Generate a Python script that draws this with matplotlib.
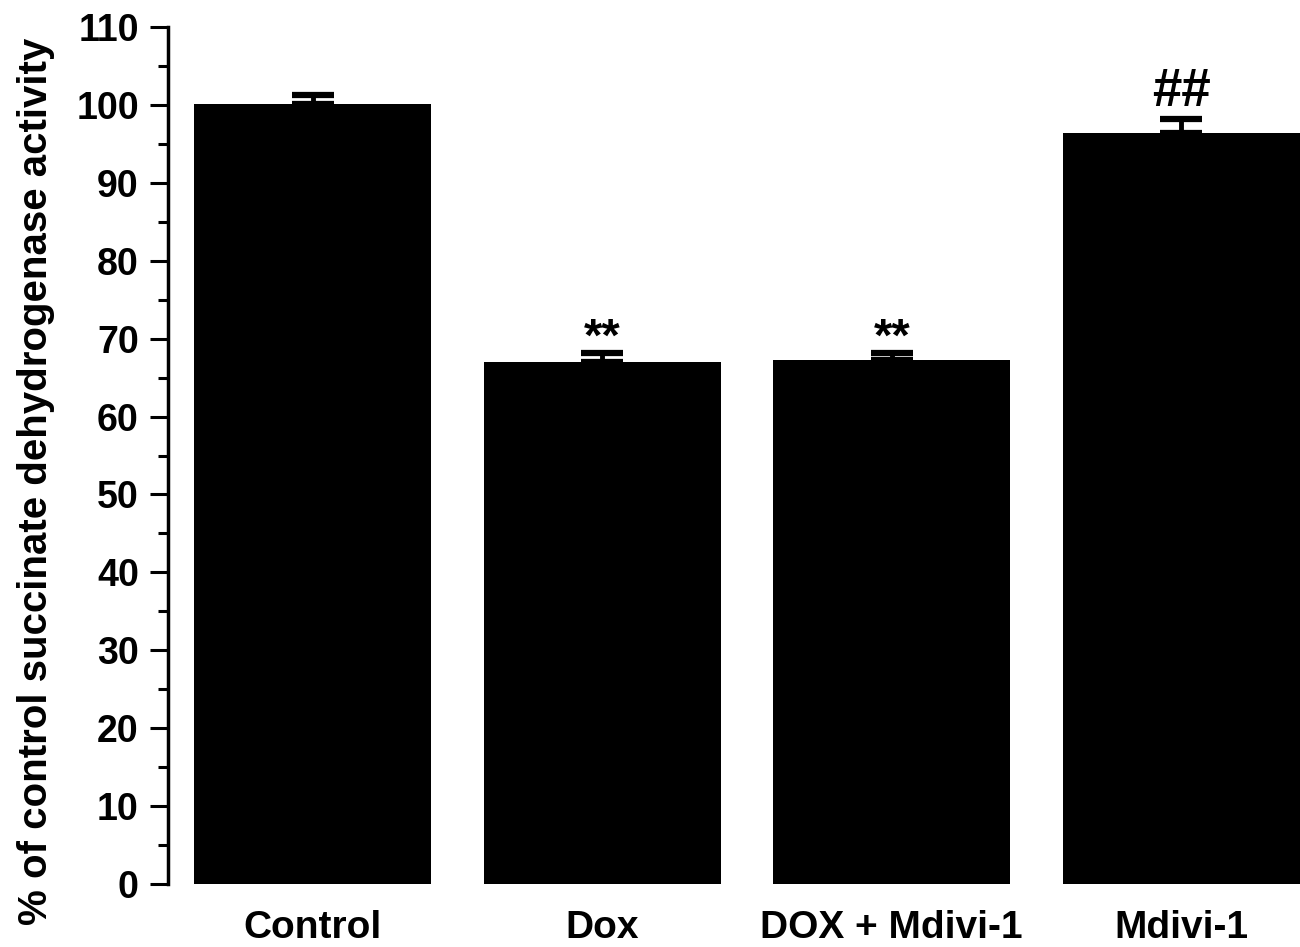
import numpy as np
import matplotlib.pyplot as plt
from matplotlib.ticker import MultipleLocator

plt.rcParams['font.family'] = ['Liberation Sans', 'DejaVu Sans']
plt.rcParams['font.weight'] = 'bold'

# data
groups = ['Control', 'Dox', 'DOX + Mdivi-1', 'Mdivi-1']
means = [100.1, 67.0, 67.3, 96.4]
sems = [1.2, 1.2, 0.8, 1.8]
marks = ['', '**', '**', '##']

fig = plt.figure(figsize=(13, 9.47), dpi=100)
ax = fig.add_axes([0.1292, 0.0665, 0.8708, 0.905])

x = np.arange(len(groups))
ax.bar(x, means, width=0.82, color='black', zorder=2)
ax.errorbar(x, means, yerr=[np.zeros(len(sems)), sems], fmt='none',
            ecolor='black', elinewidth=3.5, capsize=15, capthick=4.5, zorder=3)

# asterisks sit high on the baseline, hashes don't
mark_style = {'**': (0.3, 34), '##': (1.6, 38)}
for xi, m, s, t in zip(x, means, sems, marks):
    if t:
        off, fs = mark_style[t]
        ax.text(xi, m + s + off, t, ha='center', va='baseline',
                fontsize=fs, fontweight='bold')

ax.set_xlim(-0.5, 3.41)
ax.set_ylim(0, 110)
ax.yaxis.set_major_locator(MultipleLocator(10))
ax.yaxis.set_minor_locator(MultipleLocator(5))

ax.set_xticks(x)
ax.set_xticklabels(groups, fontsize=28, fontweight='bold')
ax.tick_params(axis='x', length=0, pad=19)
ax.tick_params(axis='y', which='major', length=13, width=2.2, labelsize=27, pad=8)
ax.tick_params(axis='y', which='minor', length=7, width=2.2)
for lab in ax.get_yticklabels():
    lab.set_fontweight('bold')

for s in ['top', 'right', 'bottom']:
    ax.spines[s].set_visible(False)
ax.spines['left'].set_linewidth(2.5)

ax.set_ylabel('% of control succinate dehydrogenase activity',
              fontsize=29, fontweight='bold', labelpad=10)
ax.yaxis.set_label_coords(-0.1, 0.47)

fig.savefig('out.png', dpi=100)
